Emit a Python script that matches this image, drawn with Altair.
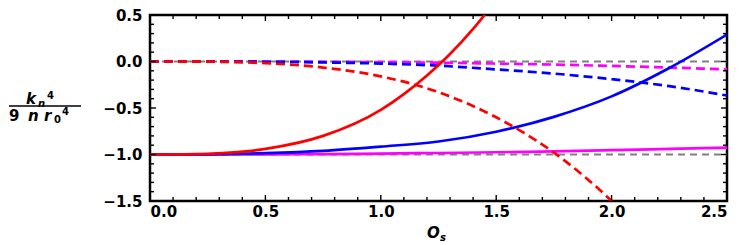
import altair as alt
import pandas as pd

# ---------------- data ----------------
x_grid = [0, 0.25, 0.5, 0.75, 1.0, 1.25, 1.5, 1.75, 2.0, 2.25, 2.5]

red_solid_x = [0, 0.25, 0.5, 0.75, 1.0, 1.1, 1.2, 1.3, 1.4, 1.5]
red_solid_y = [-1.0, -0.993, -0.94, -0.80, -0.52, -0.35, -0.15, 0.08, 0.35, 0.66]

red_dash_x = [0, 0.25, 0.5, 0.75, 1.0, 1.25, 1.5, 1.75, 2.0, 2.1]
red_dash_y = [0.0, -0.002, -0.018, -0.065, -0.16, -0.33, -0.60, -0.98, -1.50, -1.75]

blue_solid_y = [-1.0, -0.998, -0.985, -0.96, -0.915, -0.86, -0.755, -0.595, -0.375, -0.07, 0.29]
blue_dash_y = [0.0, -0.0005, -0.003, -0.01, -0.022, -0.045, -0.085, -0.13, -0.19, -0.265, -0.366]

magenta_solid_y = [-1.0, -0.9995, -0.998, -0.995, -0.99, -0.984, -0.976, -0.966, -0.954, -0.94, -0.925]
magenta_dash_y = [0.0, -0.0003, -0.001, -0.003, -0.007, -0.013, -0.022, -0.033, -0.048, -0.065, -0.085]

ref_x = [0, 2.5]
ref_top_y = [0, 0]
ref_bottom_y = [-1, -1]

x_major = [0.0, 0.5, 1.0, 1.5, 2.0, 2.5]
y_major = [-1.5, -1.0, -0.5, 0.0, 0.5]
x_minor = [round(0.1 * i, 1) for i in range(26) if i % 5 != 0]
y_minor = [round(-1.5 + 0.1 * i, 1) for i in range(21) if i % 5 != 0]

# ---------------- layout ----------------
W, H = 577, 186
FONT = "DejaVu Sans"

xs = alt.Scale(domain=[0, 2.5], nice=False, zero=False)
ys = alt.Scale(domain=[-1.5, 0.5], nice=False, zero=False)

x_axis = alt.Axis(values=x_major, format=".1f", ticks=False, domain=False, grid=False,
                  title=None, labelFont=FONT, labelFontWeight="bold", labelFontSize=15,
                  labelColor="black", labelPadding=3)
y_axis = alt.Axis(values=y_major, format=".1f", ticks=False, domain=False, grid=False,
                  title=None, labelFont=FONT, labelFontWeight="bold", labelFontSize=15,
                  labelColor="black", labelPadding=8)


def curve(xv, yv, color, dash=None, width=2.7):
    df = pd.DataFrame({"x": xv, "y": yv})
    kw = dict(color=color, strokeWidth=width, clip=True, interpolate="monotone")
    if dash:
        kw["strokeDash"] = dash
    return alt.Chart(df).mark_line(**kw).encode(
        x=alt.X("x:Q", scale=xs, axis=x_axis),
        y=alt.Y("y:Q", scale=ys, axis=y_axis),
    )


def xticks(vals, length):
    df = pd.DataFrame({"x": vals})
    base = alt.Chart(df).mark_rule(color="black", strokeWidth=1.4)
    enc_x = alt.X("x:Q", scale=xs, axis=x_axis)
    bottom = base.encode(x=enc_x, y=alt.value(H), y2=alt.value(H - length))
    top = base.encode(x=enc_x, y=alt.value(0), y2=alt.value(length))
    return [bottom, top]


def yticks(vals, length):
    df = pd.DataFrame({"y": vals})
    base = alt.Chart(df).mark_rule(color="black", strokeWidth=1.4)
    enc_y = alt.Y("y:Q", scale=ys, axis=y_axis)
    left = base.encode(y=enc_y, x=alt.value(0), x2=alt.value(length))
    right = base.encode(y=enc_y, x=alt.value(W), x2=alt.value(W - length))
    return [left, right]


one = pd.DataFrame({"a": [0]})


def txt(s, x, y, size, italic=True):
    kw = dict(text=s, align="left", baseline="alphabetic", font=FONT, fontSize=size,
              fontWeight="bold", color="black")
    if italic:
        kw["fontStyle"] = "italic"
    return alt.Chart(one).mark_text(**kw).encode(x=alt.value(x), y=alt.value(y))


layers = [
    curve(ref_x, ref_top_y, "#808080", dash=[7, 5], width=2),
    curve(ref_x, ref_bottom_y, "#808080", dash=[7, 5], width=2),
    curve(x_grid, magenta_solid_y, "#FF00FF"),
    curve(x_grid, magenta_dash_y, "#FF00FF", dash=[9, 5]),
    curve(x_grid, blue_solid_y, "#0000FF"),
    curve(x_grid, blue_dash_y, "#0000FF", dash=[9, 5]),
    curve(red_solid_x, red_solid_y, "#FF0000"),
    curve(red_dash_x, red_dash_y, "#FF0000", dash=[9, 5]),
]
layers += xticks(x_major, 6) + xticks(x_minor, 4) + yticks(y_major, 6) + yticks(y_minor, 4)

# y title: k_n^4 / (9 n r_0^4)
layers += [
    txt("k", -124, 89, 15),
    txt("n", -112, 92, 10),
    txt("4", -103, 84, 10, italic=False),
    alt.Chart(one).mark_rule(color="black", strokeWidth=1.4).encode(
        x=alt.value(-141), x2=alt.value(-69), y=alt.value(91)),
    txt("9", -141, 106, 15, italic=False),
    txt("n", -122, 106, 15),
    txt("r", -106, 106, 15),
    txt("0", -96, 108, 10, italic=False),
    txt("4", -88, 100, 10, italic=False),
]
# x title: O_s
layers += [
    txt("O", 277, 223, 15),
    txt("s", 290, 226, 10),
]

chart = alt.layer(*layers).properties(
    width=W, height=H,
    autosize=alt.AutoSizeParams(type="none"),
    padding={"left": 142, "top": 7, "right": 12, "bottom": 44},
).configure_view(stroke="black", strokeWidth=2.5)

chart.save("out.html", embed_options={"renderer": "svg", "actions": False})
